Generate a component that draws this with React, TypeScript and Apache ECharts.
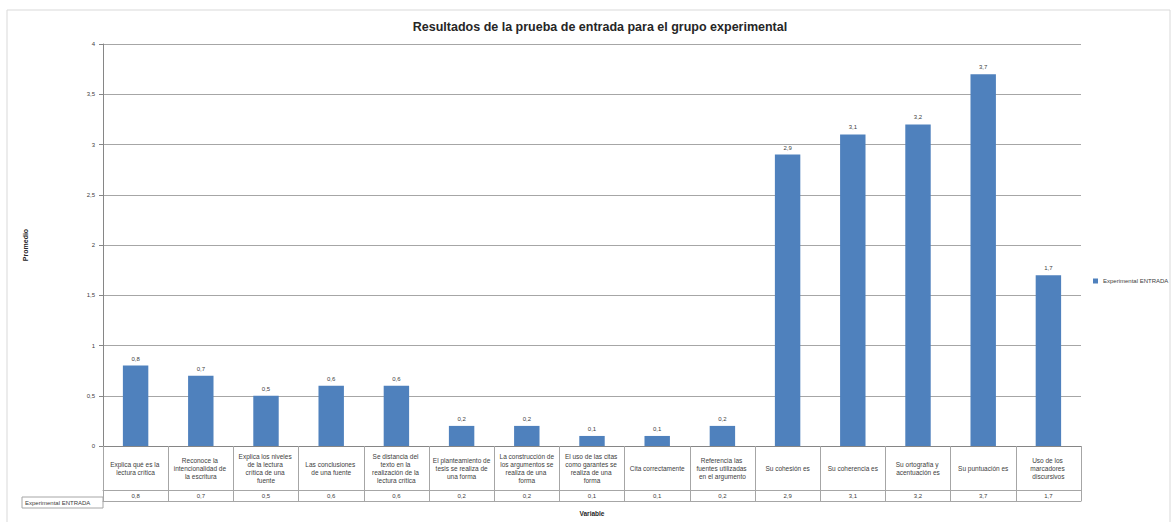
import React, { useEffect, useRef } from 'react';
import * as echarts from 'echarts';

const chartTitle = 'Resultados de la prueba de entrada para el grupo experimental';
const seriesName = 'Experimental ENTRADA';
const yAxisTitle = 'Promedio';
const xAxisTitle = 'Variable';

const categories = [
  'Explica qué es la lectura crítica',
  'Reconoce la intencionalidad de la escritura',
  'Explica los niveles de la lectura crítica de una fuente',
  'Las conclusiones de una fuente',
  'Se distancia del texto en la realización de la lectura crítica',
  'El planteamiento de tesis se realiza de una forma',
  'La construcción de los argumentos se realiza de una forma',
  'El uso de las citas como garantes se realiza de una forma',
  'Cita correctamente',
  'Referencia las fuentes utilizadas en el argumento',
  'Su cohesión es',
  'Su coherencia es',
  'Su ortografía y acentuación es',
  'Su puntuación es',
  'Uso de los marcadores discursivos',
];

const values = [0.8, 0.7, 0.5, 0.6, 0.6, 0.2, 0.2, 0.1, 0.1, 0.2, 2.9, 3.1, 3.2, 3.7, 1.7];

const yMin = 0;
const yMax = 4;
const yInterval = 0.5;

const fmt = (v: number) => String(v).replace('.', ',');

const FONT = '"Liberation Sans", Arial, sans-serif';
const GRID_COLOR = '#a6a6a6';
const AXIS_COLOR = '#868686';
const TEXT_COLOR = '#404040';

export default function App() {
  const ref = useRef<HTMLDivElement>(null);

  useEffect(() => {
    if (!ref.current) return;
    const chart = echarts.init(ref.current, null, { renderer: 'svg' });
    chart.setOption({
      animation: false,
      backgroundColor: '#ffffff',
      textStyle: { fontFamily: FONT },
      title: {
        text: chartTitle,
        left: 595,
        top: 15,
        textAlign: 'center',
        textStyle: { fontFamily: FONT, fontSize: 12.5, fontWeight: 'bold', color: '#262626' },
      },
      legend: {
        left: 1088,
        top: 273,
        itemWidth: 5,
        itemHeight: 5,
        itemGap: 4,
        icon: 'rect',
        textStyle: { fontFamily: FONT, fontSize: 6, color: TEXT_COLOR },
        data: [seriesName],
      },
      grid: { left: 103, right: 94, top: 44, bottom: 69, containLabel: false },
      yAxis: {
        type: 'value',
        min: yMin,
        max: yMax,
        interval: yInterval,
        name: yAxisTitle,
        nameLocation: 'middle',
        nameGap: 74,
        nameTextStyle: { fontFamily: FONT, fontSize: 7, fontWeight: 'bold', color: '#262626' },
        axisLine: { show: true, lineStyle: { color: AXIS_COLOR, width: 1 } },
        axisTick: { show: true, length: 4, lineStyle: { color: AXIS_COLOR } },
        axisLabel: {
          fontFamily: FONT,
          fontSize: 6,
          color: TEXT_COLOR,
          margin: 8,
          formatter: (v: number) => fmt(v),
        },
        splitLine: { show: true, lineStyle: { color: GRID_COLOR, width: 1 } },
      },
      xAxis: [
        {
          type: 'category',
          data: categories,
          position: 'bottom',
          axisLine: { show: true, lineStyle: { color: AXIS_COLOR, width: 1 } },
          axisTick: { show: true, length: 55, interval: 0, alignWithLabel: false, lineStyle: { color: GRID_COLOR } },
          axisLabel: {
            interval: 0,
            margin: 22,
            verticalAlign: 'middle',
            width: 58,
            overflow: 'break',
            fontFamily: FONT,
            fontSize: 6.5,
            lineHeight: 8,
            color: TEXT_COLOR,
          },
          splitLine: { show: false },
        },
        {
          type: 'category',
          data: categories,
          position: 'bottom',
          offset: 44,
          axisLine: { show: true, lineStyle: { color: GRID_COLOR, width: 1 } },
          axisTick: { show: false },
          axisLabel: {
            interval: 0,
            margin: 6,
            verticalAlign: 'middle',
            fontFamily: FONT,
            fontSize: 6,
            color: TEXT_COLOR,
            formatter: (_v: string, idx: number) => fmt(values[idx]),
          },
        },
        {
          type: 'category',
          data: categories,
          position: 'bottom',
          offset: 55,
          axisLine: { show: true, lineStyle: { color: GRID_COLOR, width: 1 } },
          axisTick: { show: false },
          axisLabel: { show: false },
          name: xAxisTitle,
          nameLocation: 'middle',
          nameGap: 9,
          nameTextStyle: { fontFamily: FONT, fontSize: 6.5, fontWeight: 'bold', color: '#262626' },
        },
      ],
      series: [
        {
          name: seriesName,
          type: 'bar',
          xAxisIndex: 0,
          data: values,
          barWidth: '39%',
          itemStyle: { color: '#4F81BD' },
          label: {
            show: true,
            position: 'top',
            distance: 4,
            fontFamily: FONT,
            fontSize: 6,
            color: TEXT_COLOR,
            formatter: (p: any) => fmt(p.value),
          },
        },
      ],
      graphic: [
        {
          type: 'rect',
          silent: true,
          shape: { x: 7, y: 10, width: 1163, height: 520 },
          style: { fill: 'none', stroke: '#d9d9d9', lineWidth: 1 },
          z: -1,
        },
        {
          type: 'rect',
          silent: true,
          shape: { x: 22, y: 497, width: 81, height: 11 },
          style: { fill: 'none', stroke: GRID_COLOR, lineWidth: 1 },
        },
        {
          type: 'text',
          silent: true,
          x: 25,
          y: 502.5,
          style: {
            text: seriesName,
            fontFamily: FONT,
            fontSize: 6,
            fill: TEXT_COLOR,
            verticalAlign: 'middle',
          },
        },
      ],
    });
    return () => chart.dispose();
  }, []);

  return (
    <div
      ref={ref}
      style={{ position: 'fixed', left: 0, top: 0, width: 1175, height: 522 }}
    />
  );
}
